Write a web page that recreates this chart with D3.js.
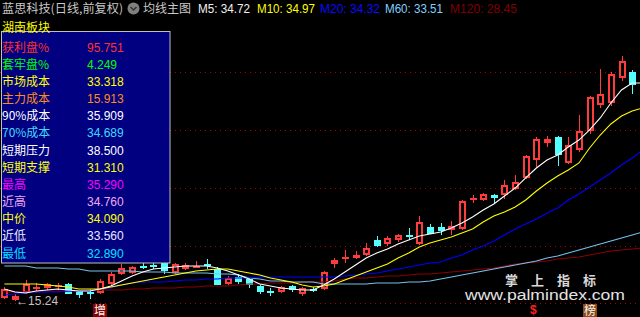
<!DOCTYPE html>
<html><head><meta charset="utf-8">
<script src="https://cdn.jsdelivr.net/npm/d3@7"></script>
<style>html,body{margin:0;padding:0;background:#000;overflow:hidden}svg{display:block}</style>
</head><body><svg id="c" width="640" height="317"></svg>
<script>
// ---- data ----
const opens = [15.50,15.33,15.92,16.25,16.33,16.42,16.58,16.00,15.92,15.92,
16.67,17.50,17.58,18.08,18.17,18.33,17.58,17.92,18.04,18.25,
17.83,16.67,17.17,17.00,16.42,16.00,16.00,16.42,15.83,16.17,
16.25,18.33,18.79,18.83,19.08,20.25,20.00,20.33,20.67,20.00,
21.33,21.33,21.17,21.25,23.71,23.67,24.00,24.08,24.58,25.50,
27.00,28.42,28.83,26.75,27.83,29.42,31.58,31.75,33.83,34.25,33.25];
const highs = [16.33,15.75,16.92,16.67,16.67,16.67,16.67,16.00,16.17,17.00,
17.58,18.25,18.08,18.33,18.33,18.33,18.33,18.33,18.50,18.67,
18.00,17.25,17.42,17.08,16.50,16.25,16.42,16.50,16.33,16.33,
17.67,18.75,19.42,19.33,20.00,20.58,20.58,20.75,21.25,22.25,
21.58,21.67,21.83,23.58,24.00,24.17,24.08,25.25,25.67,27.33,
28.83,28.92,28.92,28.83,30.67,32.25,34.50,34.25,35.58,34.42,33.42];
const lows = [15.42,15.24,15.83,16.08,16.17,16.17,15.83,15.50,15.42,15.83,
16.50,17.42,17.50,17.92,17.92,17.50,17.50,17.83,18.00,17.92,
16.58,16.58,16.67,16.33,15.83,15.67,15.92,16.00,15.67,16.00,
16.17,18.00,18.42,18.75,19.00,19.75,19.83,20.17,20.33,19.92,
20.83,20.75,20.75,21.17,23.42,23.58,23.33,23.75,24.50,25.42,
26.42,28.08,26.50,26.67,27.67,29.17,31.33,31.50,33.58,32.50,31.08];
const closes = [16.17,15.58,16.58,16.33,16.58,16.50,15.83,15.75,15.88,16.83,
17.42,17.92,18.00,18.04,18.13,17.75,18.25,18.17,18.08,18.21,
16.58,17.08,16.83,16.58,16.00,15.96,16.33,16.17,16.25,16.13,
17.58,18.58,18.83,19.00,19.58,19.83,20.42,20.67,20.63,21.75,
20.83,21.08,21.42,23.50,23.75,24.08,23.83,24.83,25.08,27.25,
28.67,28.67,27.42,28.17,29.33,32.17,32.42,34.08,35.17,33.25,31.17];

const ma5 = [16.17,15.92,15.83,16.00,16.08,16.17,16.08,16.00,16.00,16.17,
16.42,16.83,17.25,17.58,17.83,17.92,18.00,18.08,18.08,18.08,
17.92,17.67,17.33,17.00,16.58,16.42,16.25,16.17,16.08,16.08,
16.50,17.00,17.58,18.17,18.75,19.17,19.50,19.92,20.25,20.58,
20.75,20.92,21.25,21.67,22.17,22.75,23.25,23.92,24.58,25.42,
26.25,26.92,27.33,28.00,28.58,29.42,30.42,31.67,32.75,33.33,33.33];
const ma10 = [16.58,16.58,16.58,16.58,16.50,16.42,16.33,16.17,16.17,16.17,
16.33,16.50,16.67,16.83,17.00,17.17,17.33,17.50,17.67,17.75,
17.83,17.83,17.67,17.50,17.33,17.08,16.92,16.75,16.50,16.33,
16.42,16.58,16.92,17.25,17.58,17.92,18.25,18.75,19.17,19.67,
20.00,20.25,20.50,20.83,21.17,21.75,22.25,22.58,23.00,23.58,
24.33,25.00,25.58,26.08,26.67,27.92,29.00,29.92,30.58,31.00,31.25];
const ma20 = [15.67,15.75,15.83,15.92,15.92,15.92,16.00,16.00,16.00,16.17,
16.25,16.50,16.67,16.75,16.75,16.75,16.83,16.92,16.92,17.00,
17.00,17.08,17.08,17.08,17.17,17.17,17.17,17.17,17.17,17.17,
17.17,17.17,17.25,17.33,17.42,17.50,17.67,17.83,18.00,18.17,
18.33,18.42,18.75,19.00,19.42,19.75,20.17,20.67,21.17,21.58,
22.00,22.50,22.92,23.58,24.08,24.67,25.25,25.83,26.50,27.08,27.75];
const ma60 = [18.08,18.08,18.08,17.92,17.92,17.92,17.83,17.83,17.67,17.67,
17.67,17.67,17.67,17.58,17.58,17.58,17.50,17.50,17.50,17.50,
17.42,17.42,17.33,17.08,17.00,16.83,16.83,16.75,16.75,16.75,
16.58,16.58,16.58,16.58,16.58,16.67,16.67,16.67,16.75,16.75,
16.83,17.00,17.17,17.33,17.50,17.67,17.83,18.00,18.17,18.33,
18.50,18.75,18.92,19.17,19.42,19.67,19.92,20.17,20.42,20.67,20.92];
const ma120 = [15.92,15.92,15.92,15.92,16.00,16.00,16.00,16.00,16.08,16.08,
16.08,16.08,16.17,16.17,16.25,16.25,16.25,16.33,16.33,16.42,
16.42,16.42,16.50,16.58,16.58,16.67,16.67,16.67,16.75,16.75,
16.75,16.83,17.00,17.08,17.08,17.17,17.25,17.25,17.33,17.42,
17.42,17.50,17.58,17.67,17.75,17.83,17.92,18.08,18.25,18.33,
18.42,18.50,18.67,18.75,18.83,19.00,19.17,19.33,19.42,19.50,19.58];

const maNames = ['M5','M10','M20','M60','M120'];
const maLast = ['34.72','34.97','34.32','33.51','28.45'];
const gridPrices = [34.25, 29.42, 24.58, 19.75, 15.00];
const lowPrice = 15.24, lowIndex = 1;

const panelTitle = '湖南板块';
const panelLabels = ['获利盘%','套牢盘%','市场成本','主力成本','90%成本','70%成本','短期压力','短期支撑','最高','近高','中价','近低','最低'];
const panelValues = ['95.751','4.249','33.318','15.913','35.909','34.689','38.500','31.310','35.290','34.760','34.090','33.560','32.890'];
const markers = [{i:9, text:'增'}, {i:50, text:'$'}, {i:55, text:'榜'}];

// ---- styles ----
const FONT = '"Liberation Sans","Noto Sans CJK SC",sans-serif';
const CJK = '"Noto Sans CJK SC","Liberation Sans",sans-serif';
const maColors = ['#ffffff','#ffff00','#0000ff','#78c0f0','#8b0000'];
const panelColors = ['#ff3030','#00ff00','#ffff00','#ff8c1a','#ffffff','#40d8ff','#ffffff','#ffff00','#ff00ff','#f0a8f0','#ffff00','#e8e8ff','#00e0ff'];
const UP = '#ff3c3c', DOWN = '#54ffff';

const svg = d3.select('#c');
svg.append('rect').attr('width',640).attr('height',317).attr('fill','#000');

const x = d3.scaleBand().domain(d3.range(opens.length)).range([-0.9, 648.1]);
const cx = i => x(i) + x.bandwidth()/2;
const y = d3.scaleLinear().domain([15,35]).range([303,63]);

// grid
svg.append('g').selectAll('line').data(gridPrices).join('line')
  .attr('x1',0).attr('x2',640)
  .attr('y1',d=>Math.round(y(d))+0.5).attr('y2',d=>Math.round(y(d))+0.5)
  .attr('stroke','#b00000').attr('stroke-dasharray','1,4');

// candles
const candles = opens.map((o,i)=>({i,o,h:highs[i],l:lows[i],c:closes[i]}));
const cg = svg.append('g').attr('shape-rendering','crispEdges');
candles.forEach(d=>{
  const up = d.c > d.o;
  const col = up ? UP : DOWN;
  const xi = Math.round(cx(d.i));
  const xc = xi + 0.5;
  cg.append('line').attr('x1',xc).attr('x2',xc)
    .attr('y1',Math.round(y(d.h))).attr('y2',Math.round(y(d.l))+1).attr('stroke',col);
  const top = Math.round(y(Math.max(d.o,d.c)));
  const bot = Math.round(y(Math.min(d.o,d.c)));
  const hgt = bot - top;
  if (hgt < 2) {
    cg.append('rect').attr('x',xi-3).attr('y',top-0.5).attr('width',7).attr('height',2).attr('fill',col);
  } else if (up) {
    cg.append('rect').attr('x',xi-2).attr('y',top+1).attr('width',5).attr('height',Math.max(hgt-1,1))
      .attr('fill','#000').attr('stroke',col).attr('stroke-width',2);
  } else {
    cg.append('rect').attr('x',xi-3).attr('y',top).attr('width',7).attr('height',hgt+1)
      .attr('fill',col);
  }
});

// moving averages
const maSeries = [ma5, ma10, ma20, ma60, ma120].map((v,k)=>({v, color:maColors[k]}));
const line = d3.line().x((d,i)=>cx(i)).y(d=>y(d));
svg.append('g').selectAll('path').data(maSeries.slice().reverse()).join('path')
  .attr('d',d=>line(d.v)).attr('fill','none').attr('stroke',d=>d.color).attr('stroke-width',1.1);

// low marker
svg.append('text').attr('x',cx(lowIndex)+1).attr('y',y(lowPrice)+5)
  .attr('font-family',FONT).attr('font-size',12).attr('fill','#c0c0c0')
  .text('←' + lowPrice.toFixed(2));

// bottom markers
markers.forEach(m=>{
  const xc = cx(m.i);
  if (m.text === '$') {
    svg.append('text').attr('x',xc-3).attr('y',314).attr('text-anchor','middle')
      .attr('font-family',FONT).attr('font-weight','bold').attr('font-size',12).attr('fill','#ff2020').text(m.text);
  } else {
    const bg = m.text === '增' ? '#8b0000' : '#8b4a14';
    svg.append('rect').attr('x',Math.round(xc)-7).attr('y',304).attr('width',14).attr('height',13).attr('fill',bg);
    svg.append('text').attr('x',Math.round(xc)).attr('y',315).attr('text-anchor','middle')
      .attr('font-family',CJK).attr('font-size',12).attr('fill','#f4f4f4').text(m.text);
  }
});

// watermark
svg.append('text').attr('x',505).attr('y',284.5).attr('font-family',CJK).attr('font-weight','bold')
  .attr('font-size',13).attr('letter-spacing',13).attr('fill','#d8d8d8').text('掌上指标');
svg.append('text').attr('x',465).attr('y',299.5).attr('font-family',FONT)
  .attr('font-size',15.5).attr('textLength',160).attr('lengthAdjust','spacingAndGlyphs')
  .attr('fill','#e4e4e4').text('www.palmindex.com');

// info panel
const pg = svg.append('g');
pg.append('rect').attr('x',1.5).attr('y',31.5).attr('width',168.5).attr('height',231.5)
  .attr('fill','#000080').attr('stroke','#c0c0c0');
pg.append('text').attr('x',2).attr('y',32).attr('font-family',CJK).attr('font-size',12)
  .attr('fill','#ffff00').text(panelTitle);
panelLabels.forEach((lab,k)=>{
  const by = 51.5 + k*17.17;
  pg.append('text').attr('x',2).attr('y',by).attr('font-family',CJK).attr('font-size',12)
    .attr('fill',panelColors[k]).text(lab);
  pg.append('text').attr('x',87).attr('y',by).attr('font-family',FONT).attr('font-size',12)
    .attr('fill',panelColors[k]).text(panelValues[k]);
});

// header
const hg = svg.append('g');
hg.append('text').attr('x',2).attr('y',13).attr('font-family',CJK).attr('font-size',12)
  .attr('textLength',121).attr('lengthAdjust','spacingAndGlyphs')
  .attr('fill','#c8c8c8').text('蓝思科技(日线,前复权)');
hg.append('circle').attr('cx',133.5).attr('cy',8.5).attr('r',6).attr('fill','#808080');
hg.append('path').attr('d','M130.5,7 L133.5,10 L136.5,7').attr('fill','none').attr('stroke','#333').attr('stroke-width',1.5);
hg.append('text').attr('x',143).attr('y',13).attr('font-family',CJK).attr('font-size',12)
  .attr('fill','#c8c8c8').text('均线主图');
const hx = [198, 257, 320, 385, 450];
const hw = [52, 58, 60, 58, 67];
const hcol = ['#f0f0f0','#ffff00','#0a0aff','#80d0ff','#800000'];
maNames.forEach((n,k)=>{
  hg.append('text').attr('x',hx[k]).attr('y',13).attr('font-family',FONT).attr('font-size',12)
    .attr('textLength',hw[k]).attr('lengthAdjust','spacingAndGlyphs')
    .attr('fill',hcol[k]).text(n + ': ' + maLast[k]);
});
</script></body></html>
